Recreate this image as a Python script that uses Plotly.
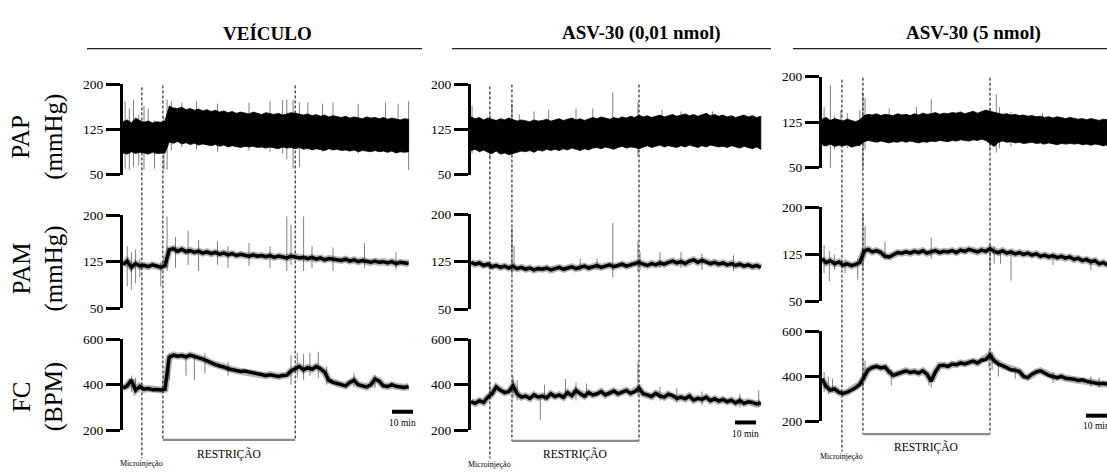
import plotly.graph_objects as go

W, H = 1107, 475

# ---------------- DATA (minutes / mmHg / bpm) ----------------
t_veh = list(range(0, 137, 2))
t_low = list(range(0, 139, 2))
t_high = list(range(0, 137, 2))

# VEÍCULO
veh_pap_up = [138,141,136,144,140,137,139,136,138,137,
              139,
              164,161,160,162,158,160,157,159,156,158,
              155,157,154,156,153,155,152,154,153,151,
              154,152,150,153,151,150,152,149,151,153,
              152,150,149,151,148,150,147,149,146,148,
              147,145,147,144,146,145,143,146,144,145,
              143,145,142,144,143,141,143,142]
veh_pap_lo = [86,84,88,85,87,86,84,87,85,86,
              86,
              104,102,105,101,103,100,102,99,101,100,
              98,100,97,99,96,98,97,95,97,96,
              97,95,96,94,96,95,93,96,94,95,
              93,95,92,94,91,93,92,90,93,91,
              92,90,91,89,91,88,90,89,88,90,
              88,89,87,89,86,88,87,88]
veh_pap_spk = [(1,60,172),(3,58,160),(5,62,175),(7.5,65,150),(10,58,165),(12,95,160),
               (15,60,140),(19.5,58,145),(21,58,175),(23,90,172),(28,95,170),(35,92,172),
               (45,88,168),(60,90,170),(70,88,172),(76,85,174),(78,75,175),(81,60,175),
               (84,62,170),(88,90,170),(95,88,168),(100,92,170),(112,85,168),(125,88,170),
               (131,90,168),(136,58,172)]
veh_pam = [120,126,116,122,118,119,117,120,118,116,
           119,
           144,146,142,145,141,143,140,142,139,141,
           138,140,137,139,136,138,135,137,136,134,
           136,134,135,133,135,132,134,133,131,134,
           133,131,132,130,132,129,131,128,130,129,
           128,127,129,126,128,125,127,126,124,126,
           124,125,123,125,122,124,123,122]
veh_pam_spk = [(2,85,150),(4,80,140),(6,90,145),(8,100,130),(18,85,125),(21,110,198),
               (25,115,165),(31,120,175),(36,110,160),(45,120,158),(50,115,150),(60,118,155),
               (70,115,150),(78,110,198),(80,120,185),(86,110,198),(90,115,150),(100,110,148),
               (115,115,155),(130,112,140)]
veh_fc = [385,395,420,375,392,380,383,378,379,377,
          380,
          520,530,525,528,522,530,525,520,512,505,
          495,488,482,478,470,466,462,458,460,455,
          452,448,445,440,444,438,436,440,442,460,
          470,480,465,475,468,480,470,455,420,410,
          405,400,395,410,420,400,395,390,400,425,
          415,395,392,400,393,390,388,392]
veh_fc_spk = [(4,370,440),(6,365,430),(22,420,540),(30,440,530),(34,420,520),(39,450,540),
              (50,440,500),(80,400,530),(83,430,540),(86,420,535),(89,440,540),(93,430,545),
              (97,400,480),(110,390,450),(120,385,440)]

# ASV-30 (0,01 nmol)
low_pap_up = [146,143,145,141,144,142,140,143,141,144,
              142,139,141,140,138,141,139,140,142,139,
              141,143,140,142,144,141,143,140,142,145,
              143,146,144,142,145,143,146,144,147,145,
              149,146,148,145,147,149,146,148,150,147,
              149,151,148,150,147,149,152,148,150,147,
              149,146,148,145,147,149,146,148,145,147]
low_pap_lo = [90,92,88,91,87,85,89,84,86,83,
              85,87,89,88,90,87,91,89,92,90,
              92,90,93,91,94,92,90,93,91,94,
              95,93,96,94,92,95,97,94,96,95,
              93,96,98,95,97,99,96,98,97,95,
              98,96,99,97,95,98,96,99,97,96,
              97,95,98,96,94,97,95,93,96,92]
low_pap_spk = [(0.5,85,165),(9,78,150),(19.5,82,168),(23,95,150),(30,95,155),(37,95,158),
               (50,95,160),(58,100,160),(67.5,95,187),(79.5,80,171),(91,100,158),
               (100,100,155),(115,100,155)]
low_pam = [124,121,123,119,121,117,119,116,118,115,
           118,114,116,113,115,112,114,113,115,112,
           114,116,113,115,117,114,116,118,115,117,
           119,116,118,120,117,119,121,118,120,122,
           124,121,119,122,120,123,121,124,126,123,
           125,122,126,128,124,127,125,122,124,121,
           123,120,122,119,121,118,120,117,119,116]
low_pam_spk = [(19.5,105,178),(20.5,110,150),(52,110,130),(60,112,130),(67.5,100,186),
               (79.5,110,157),(80.5,112,140),(90,115,140),(100,115,140),(110,112,138),
               (125,110,135)]
low_fc = [325,318,330,322,345,360,390,375,365,370,
          395,360,345,350,340,355,345,350,342,360,
          348,355,345,365,352,375,360,350,365,355,
          360,370,355,365,372,360,368,375,362,370,
          385,360,355,348,362,350,345,358,352,340,
          345,338,350,332,340,335,345,330,338,328,
          335,325,332,320,330,318,325,322,315,320]
low_fc_spk = [(9,350,410),(20,340,440),(22,330,420),(33,245,340),(35,330,400),(45,340,425),
              (50,330,410),(55,340,405),(79.5,350,498),(90,330,390),(98,320,385),
              (110,310,370),(128,300,360),(137,300,375)]

# ASV-30 (5 nmol)
high_pap_up = [130,133,128,131,129,127,130,128,126,129,
               136,138,137,139,136,138,137,136,139,137,
               138,136,139,137,140,138,139,141,138,140,
               139,141,140,142,139,141,143,140,142,145,
               143,141,140,138,139,137,138,136,137,135,
               136,134,135,133,134,132,134,133,131,133,
               132,130,131,129,131,130,128,130,129]
high_pap_lo = [88,86,89,85,87,86,88,84,86,87,
               93,95,94,92,94,93,91,93,92,94,
               92,94,93,91,93,92,94,93,95,94,
               93,95,94,96,95,94,96,95,97,95,
               90,85,92,94,92,93,91,92,90,91,
               92,90,91,89,91,90,88,90,89,90,
               89,90,88,89,87,89,88,86,88]
high_pap_spk = [(1,85,150),(4,40,186),(6,80,135),(9,85,145),(12,82,140),(18,85,145),
                (19.5,40,174),(20.5,80,165),(32,92,148),(45,92,150),(52,92,163),
                (80,80,148),(83,75,171),(84.5,82,150),(90,85,142),(105,88,140)]
high_pam = [118,112,115,110,113,108,110,107,109,112,
            130,133,129,131,128,122,121,125,128,127,
            129,127,130,128,131,127,129,131,128,130,
            129,131,128,132,130,133,131,129,132,130,
            134,130,128,131,127,129,126,128,125,127,
            124,126,122,124,121,123,120,122,119,121,
            117,119,115,117,113,115,110,112,108]
high_pam_spk = [(1,95,140),(3.5,82,130),(6,100,125),(11,95,118),(17,85,118),(19.5,98,191),
                (20.5,120,170),(30,118,145),(52,118,152),(80,100,140),(82,110,138),
                (85,110,130),(90,83,128),(110,108,125),(128,100,118)]
high_fc = [390,355,340,345,330,325,330,340,350,365,
           395,430,440,445,438,442,420,405,412,420,
           425,418,422,415,425,410,380,420,448,450,
           445,455,452,460,456,462,468,460,472,475,
           495,470,455,448,440,430,428,422,400,395,
           410,420,425,415,405,400,395,400,392,390,
           388,382,385,378,375,372,368,370,366]
high_fc_spk = [(1,330,420),(3,320,400),(5,330,390),(19.5,340,480),(20.5,380,470),(33,360,430),
               (51,360,400),(52,350,380),(79.5,440,520),(81,430,510),(84,400,470),
               (92,390,440),(110,370,420),(128,355,400),(132,350,395)]

titles = ["VEÍCULO", "ASV-30 (0,01 nmol)", "ASV-30 (5 nmol)"]
row_labels = [("PAP", "(mmHg)"), ("PAM", "(mmHg)"), ("FC", "(BPM)")]
row_ranges = [(50, 200), (50, 200), (200, 600)]
row_ticks = [[50, 125, 200], [50, 125, 200], [200, 400, 600]]

# event times (min): microinjection, restraint start, restraint end, 10-min bar start
microinj = [9.0, 9.0, 9.5]
restr_start = [19.0, 19.5, 19.5]
restr_end = [82.0, 80.0, 80.0]
bar_start = [128.1, 125.7, 125.7]
bar_len = 10

series = [
    (t_veh, veh_pap_up, veh_pap_lo, veh_pap_spk, veh_pam, veh_pam_spk, veh_fc, veh_fc_spk),
    (t_low, low_pap_up, low_pap_lo, low_pap_spk, low_pam, low_pam_spk, low_fc, low_fc_spk),
    (t_high, high_pap_up, high_pap_lo, high_pap_spk, high_pam, high_pam_spk, high_fc, high_fc_spk),
]

# ---------------- LAYOUT GEOMETRY (pixels) ----------------
PXMIN = 2.1
col_x0 = [123, 471, 822]
col_tmax = [142, 142, (W - 822) / PXMIN]
col_rows = [[(80, 173), (215, 311), (343, 437)],
            [(80, 173), (214, 312), (343, 437)],
            [(72, 166), (207, 304), (335, 428)]]
col_dash_top = [81, 80, 73]
col_micro_bot = [466, 466, 459]
col_bracket_y = [447, 448, 441]
col_restr_lbl_y = [462, 462, 454]
col_micro_lbl_y = [471, 472, 464]
col_bar_y = [418, 429, 422]
col_bar_lbl_y = [430, 441, 433]
title_cx = [267, 641, 973]
title_line = [(87, 422), (452, 771), (793, 1107)]


def PX(x):
    return x / W


def PY(y):
    return 1 - y / H


SERIF = "Liberation Serif, Times New Roman, serif"

fig = go.Figure()
layout = dict(width=W, height=H, margin=dict(l=0, r=0, t=0, b=0),
              paper_bgcolor="white", plot_bgcolor="rgba(0,0,0,0)", showlegend=False)
shapes = []
annotations = []

for c in range(3):
    t, pap_up, pap_lo, pap_spk, pam, pam_spk, fc, fc_spk = series[c]
    x0 = col_x0[c]
    x1 = x0 + col_tmax[c] * PXMIN
    for r in range(3):
        idx = c * 3 + r + 1
        sfx = "" if idx == 1 else str(idx)
        xa, ya = "x" + sfx, "y" + sfx
        ytop, ybot = col_rows[c][r]
        layout["xaxis" + sfx] = dict(domain=[PX(x0), min(1.0, PX(x1))], range=[0, col_tmax[c]],
                                     visible=False, anchor=ya, fixedrange=True)
        layout["yaxis" + sfx] = dict(domain=[PY(ybot), PY(ytop)], range=list(row_ranges[r]),
                                     anchor=xa, showline=True, linecolor="black", linewidth=3,
                                     ticks="outside", ticklen=14, tickwidth=3, tickcolor="black",
                                     tickvals=row_ticks[r], ticktext=[str(v) for v in row_ticks[r]],
                                     tickfont=dict(family=SERIF, size=13.5, color="black"),
                                     showgrid=False, zeroline=False, fixedrange=True)
        spk = [pap_spk, pam_spk, fc_spk][r]
        sx, sy = [], []
        for (st, slo, shi) in spk:
            sx += [st, st, None]
            sy += [slo, shi, None]
        fig.add_trace(go.Scatter(x=sx, y=sy, mode="lines", xaxis=xa, yaxis=ya,
                                 line=dict(color="#808080", width=1), hoverinfo="skip"))
        if r == 0:
            fig.add_trace(go.Scatter(x=t + t[::-1], y=pap_up + pap_lo[::-1], mode="lines",
                                     fill="toself", fillcolor="black", xaxis=xa, yaxis=ya,
                                     line=dict(color="black", width=0.8), hoverinfo="skip"))
        else:
            vals = pam if r == 1 else fc
            fig.add_trace(go.Scatter(x=t, y=vals, mode="lines", xaxis=xa, yaxis=ya,
                                     line=dict(color="rgba(0,0,0,0.3)", width=7), hoverinfo="skip"))
            fig.add_trace(go.Scatter(x=t, y=vals, mode="lines", xaxis=xa, yaxis=ya,
                                     line=dict(color="black", width=3.5), hoverinfo="skip"))

    xt = "x" + ("" if c == 0 else str(c * 3 + 1))
    xb = "x" + str(c * 3 + 3)
    dash = "3px,2px"
    # dashed event lines
    shapes.append(dict(type="line", xref=xt, yref="paper", x0=microinj[c], x1=microinj[c],
                       y0=PY(col_dash_top[c] + 2), y1=PY(col_micro_bot[c]),
                       line=dict(color="black", width=1, dash=dash)))
    for tt in (restr_start[c], restr_end[c]):
        shapes.append(dict(type="line", xref=xt, yref="paper", x0=tt, x1=tt,
                           y0=PY(col_dash_top[c]), y1=PY(col_bracket_y[c]),
                           line=dict(color="black", width=1, dash=dash)))
    # restraint bracket
    shapes.append(dict(type="line", xref=xt, yref="paper", x0=restr_start[c], x1=restr_end[c],
                       y0=PY(col_bracket_y[c]), y1=PY(col_bracket_y[c]),
                       line=dict(color="#8a8a8a", width=2.2)))
    # 10 min scale bar
    shapes.append(dict(type="line", xref=xb, yref="paper", x0=bar_start[c], x1=bar_start[c] + bar_len,
                       y0=PY(col_bar_y[c]), y1=PY(col_bar_y[c]),
                       line=dict(color="black", width=4)))
    annotations.append(dict(xref=xb, yref="paper", x=bar_start[c] + bar_len / 2, y=PY(col_bar_lbl_y[c]),
                            text="10 min", showarrow=False, xanchor="center", yanchor="middle",
                            font=dict(family=SERIF, size=9.5, color="black")))
    annotations.append(dict(xref=xt, yref="paper", x=(restr_start[c] + restr_end[c]) / 2,
                            y=PY(col_restr_lbl_y[c]), text="RESTRIÇÃO", showarrow=False,
                            xanchor="center", yanchor="middle",
                            font=dict(family=SERIF, size=11.5, color="black")))
    annotations.append(dict(xref=xt, yref="paper", x=microinj[c], y=PY(col_micro_lbl_y[c]),
                            text="Microinjeção", showarrow=False, xanchor="center", yanchor="middle",
                            font=dict(family=SERIF, size=8, color="black")))
    # titles
    annotations.append(dict(xref="paper", yref="paper", x=PX(title_cx[c]), y=PY(27),
                            text="<b>" + titles[c] + "</b>", showarrow=False,
                            xanchor="center", yanchor="middle",
                            font=dict(family=SERIF, size=19, color="black")))
    shapes.append(dict(type="line", xref="paper", yref="paper",
                       x0=PX(title_line[c][0]), x1=PX(title_line[c][1]), y0=PY(43), y1=PY(43),
                       line=dict(color="#222", width=1.3)))

# row labels (left)
label_y = [134, 270, 403]
for r in range(3):
    annotations.append(dict(xref="paper", yref="paper", x=PX(21), y=PY(label_y[r]),
                            text=row_labels[r][0], showarrow=False, textangle=-90,
                            xanchor="center", yanchor="middle",
                            font=dict(family=SERIF, size=25, color="black")))
    annotations.append(dict(xref="paper", yref="paper", x=PX(54), y=PY(label_y[r]),
                            text=row_labels[r][1], showarrow=False, textangle=-90,
                            xanchor="center", yanchor="middle",
                            font=dict(family=SERIF, size=25, color="black")))

layout["shapes"] = shapes
layout["annotations"] = annotations
fig.update_layout(**layout)
fig.write_html("out.html")
